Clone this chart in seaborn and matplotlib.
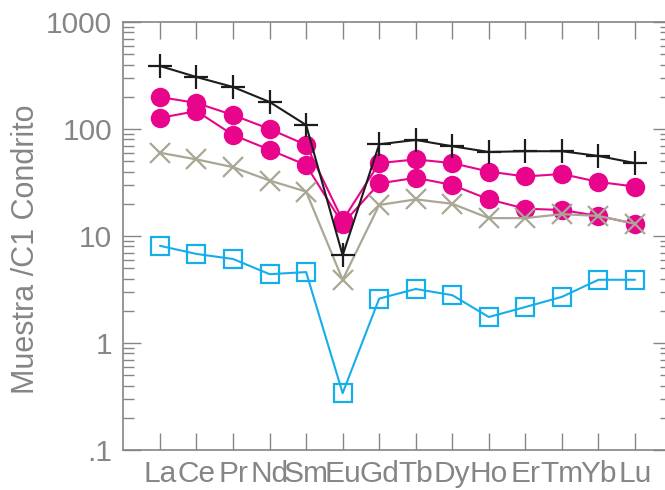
import numpy as np
import pandas as pd
import matplotlib
matplotlib.use("Agg")
from matplotlib import pyplot as plt
from matplotlib.ticker import FixedLocator, FixedFormatter, LogLocator, NullFormatter
import seaborn as sns

# REE normalised to C1 chondrite
elements = ["La", "Ce", "Pr", "Nd", "Sm", "Eu", "Gd", "Tb", "Dy", "Ho", "Er", "Tm", "Yb", "Lu"]

black_plus = [388, 306, 247, 179, 109, 6.6, 72, 79, 69, 61, 62, 62, 56, 48]
magenta_a = [199, 175, 135, 100, 71, 14, 48, 52, 48, 40, 36, 38, 32, 29]
magenta_b = [127, 147, 88, 64, 46, 13, 31, 35, 30, 22, 18, 17.5, 15.4, 13]
gray_x = [60, 52, 44, 33, 26, 3.9, 19.5, 22, 20, 14.7, 14.7, 16, 15.4, 13]
blue_sq = [8.1, 6.8, 6.1, 4.4, 4.6, 0.34, 2.6, 3.2, 2.8, 1.75, 2.17, 2.7, 3.9, 3.9]

y_ticks = [0.1, 1, 10, 100, 1000]
y_labels = [".1", "1", "10", "100", "1000"]

sns.set_style("ticks")
plt.rcParams["font.family"] = ["Liberation Sans", "DejaVu Sans"]
grey = "#858585"

fig = plt.figure(figsize=(6.65, 4.9), dpi=100)
# right spine sits just past the image edge, as in the reference
ax = fig.add_axes([0.185, 0.0816, 0.824, 0.8735])

pos = np.arange(len(elements))

#blue open squares
sns.lineplot(x=pos, y=blue_sq, ax=ax, color="#16aee8", lw=1.5, sort=False,
             marker="s", markersize=13, markerfacecolor="none",
             markeredgecolor="#16aee8", markeredgewidth=1.6)
#magenta filled circles
for vals in [magenta_a, magenta_b]:
    sns.lineplot(x=pos, y=vals, ax=ax, color="#e8058c", lw=1.5, sort=False,
                 marker="o", markersize=14, markeredgewidth=0,
                 markerfacecolor="#e8058c")
#grey crosses
sns.lineplot(x=pos, y=gray_x, ax=ax, color="#aaa795", lw=1.6, sort=False,
             marker="x", markersize=15, markeredgewidth=1.6,
             markeredgecolor="#aaa795")
#black plus
sns.lineplot(x=pos, y=black_plus, ax=ax, color="#1c1c1c", lw=1.5, sort=False,
             marker="+", markersize=17, markeredgewidth=1.6,
             markeredgecolor="#1c1c1c")

ax.set_yscale("log")
ax.set_ylim(0.1, 1000)
ax.set_xlim(-1.01, 13.985)

ax.yaxis.set_major_locator(FixedLocator(y_ticks))
ax.yaxis.set_major_formatter(FixedFormatter(y_labels))
ax.yaxis.set_minor_locator(LogLocator(base=10, subs=np.arange(2, 10)))
ax.yaxis.set_minor_formatter(NullFormatter())
ax.set_xticks(pos)
ax.set_xticklabels(elements)

ax.tick_params(axis="both", which="both", direction="in", colors=grey,
               labelcolor=grey, labelsize=21.5, width=1)
ax.tick_params(axis="y", which="major", length=13, right=True, pad=8)
ax.tick_params(axis="y", which="minor", length=8, right=True)
ax.tick_params(axis="x", which="major", length=12, top=True, pad=7)

for s in ax.spines.values():
    s.set_color(grey)
    s.set_linewidth(1.2)

ax.set_xlabel("")
ax.set_ylabel("Muestra /C1 Condrito", fontsize=22, color=grey)
ax.yaxis.set_label_coords(-0.15, 0.47)

fig.savefig("out.png", dpi=100)
